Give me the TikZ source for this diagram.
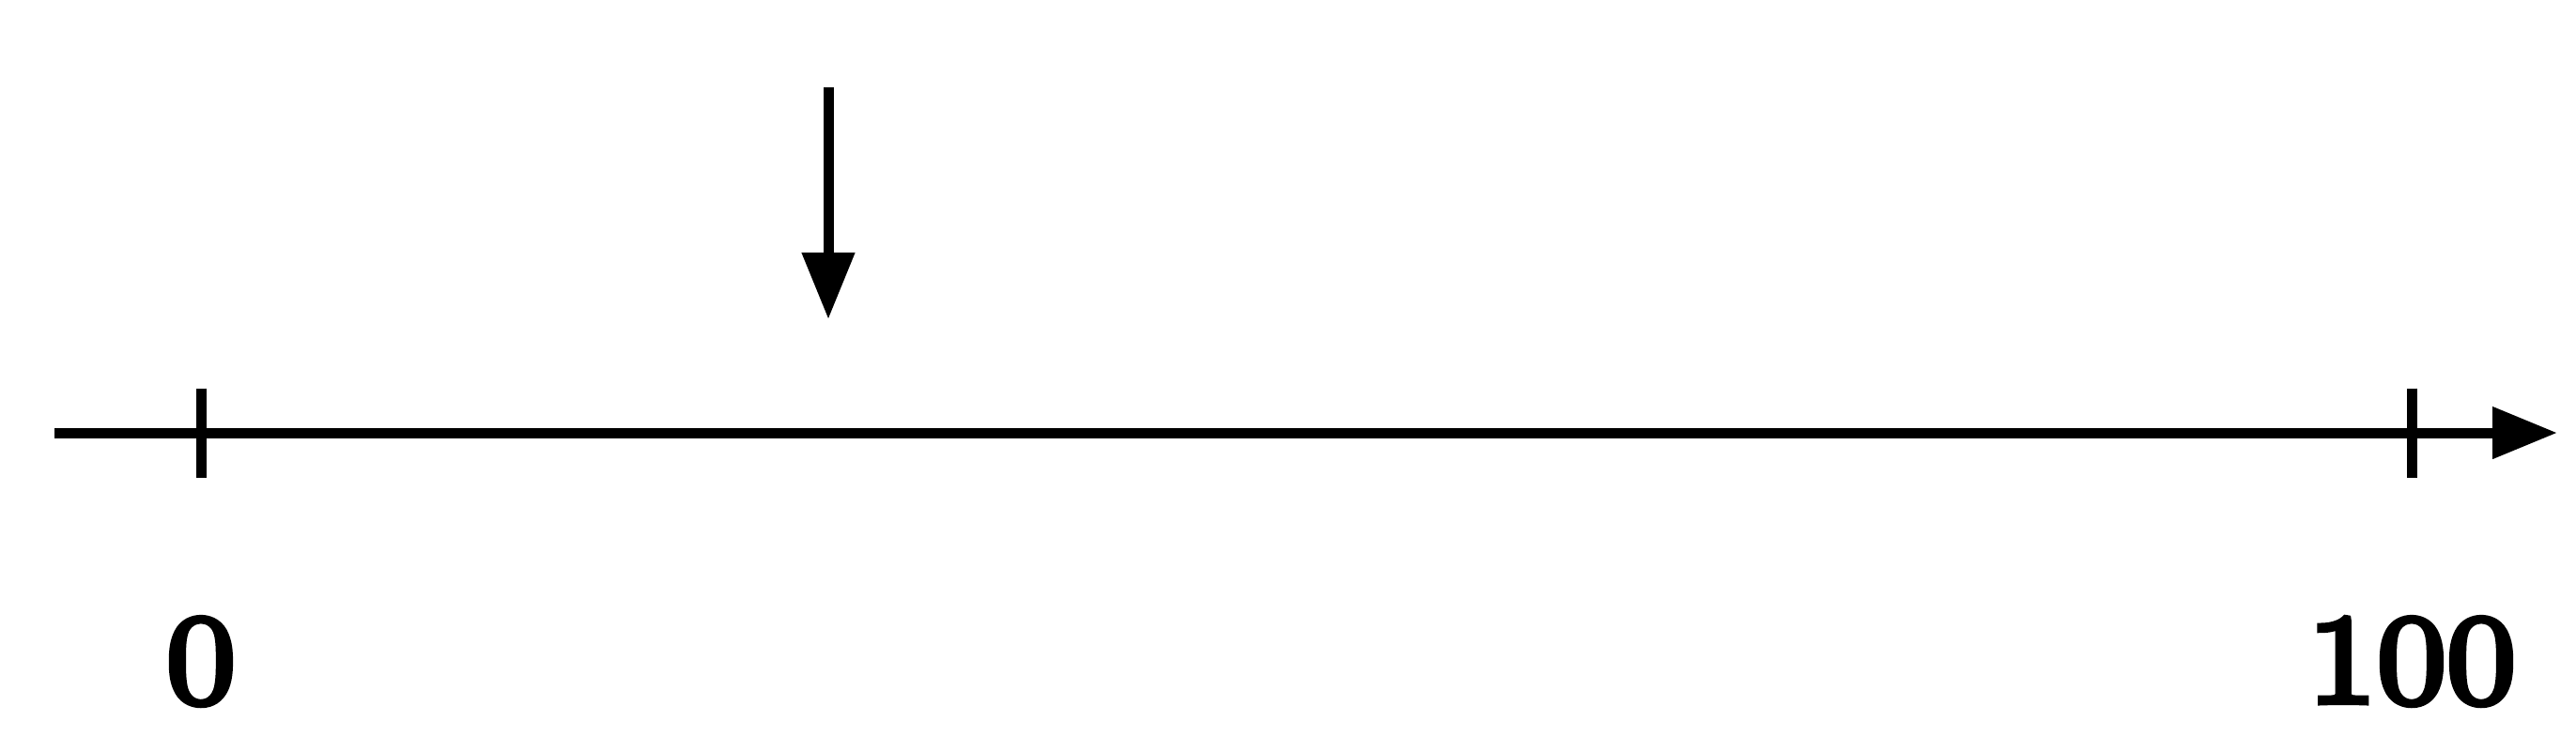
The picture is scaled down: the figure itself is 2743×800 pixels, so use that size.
\documentclass[tikz,border=0pt]{standalone}
\usepackage{fontspec}
\newfontfamily\labelfont{Latin Modern Roman}[FakeBold=5, FakeStretch=1.12]
\usetikzlibrary{arrows.meta}

\begin{document}
\begin{tikzpicture}[x=0.1pt, y=0.1pt,
  axisline/.style={line width=1.1pt, -{Triangle[length=6.9pt, width=5.3pt]}},
  tickmark/.style={line width=1.1pt},
  markerarrow/.style={line width=1.1pt, -{Triangle[length=7.1pt, width=5.4pt]}},
  ticklabel/.style={font=\labelfont\fontsize{13.5}{16}\selectfont, anchor=base, inner sep=0pt}]
\useasboundingbox (0,0) rectangle (2743,800);
% axis
\coordinate (axisstart) at (58,339);
\coordinate (axisend) at (2723,339);
\draw[axisline] (axisstart) -- (axisend);
% ticks and labels
\foreach \xpos/\val/\name in {214/0/zero, 2568/100/hundred} {
  \coordinate (tick\name) at (\xpos,339);
  \draw[tickmark] ([yshift=4.75pt]tick\name) -- ([yshift=-4.75pt]tick\name);
  \node[ticklabel] (label\name) at (\xpos,52) {\val};
}
% marker
\coordinate (markertop) at (882,707);
\coordinate (markertip) at (882,460);
\draw[markerarrow] (markertop) -- (markertip);
\end{tikzpicture}
\end{document}
